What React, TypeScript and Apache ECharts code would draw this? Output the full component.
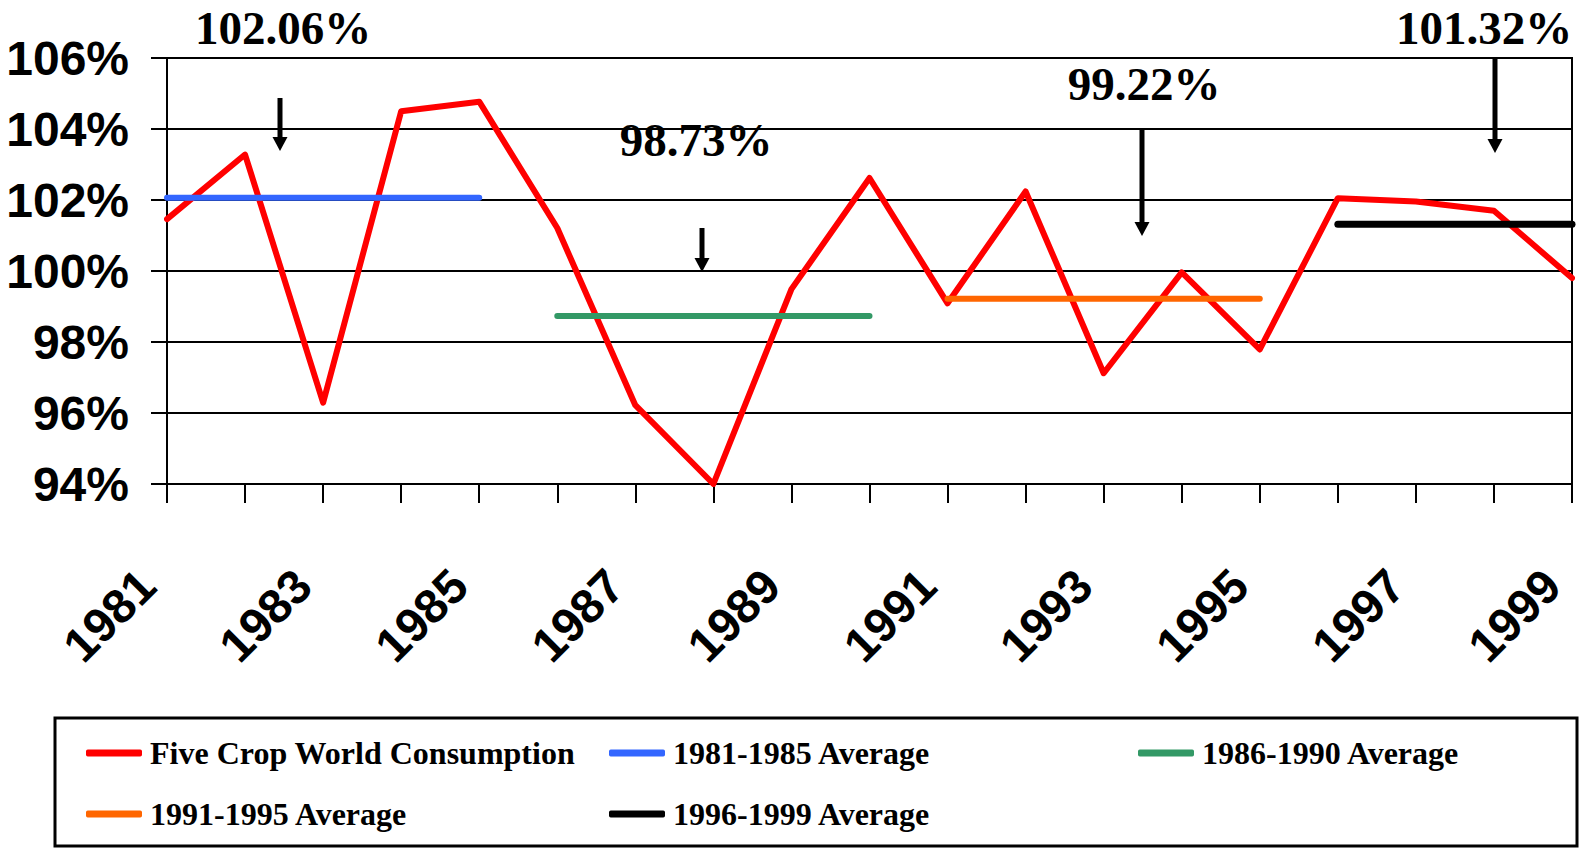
import React, { useEffect, useRef } from "react";
import * as echarts from "echarts";

const years = [
  "1981", "1982", "1983", "1984", "1985", "1986", "1987", "1988", "1989", "1990",
  "1991", "1992", "1993", "1994", "1995", "1996", "1997", "1998", "1999",
];

const consumption = [
  101.46, 103.28, 96.29, 104.5, 104.77, 101.21, 96.22, 94.0, 99.49, 102.62,
  99.09, 102.24, 97.12, 99.96, 97.79, 102.05, 101.96, 101.7, 99.8,
];

const avg1981to1985 = [
  102.06, 102.06, 102.06, 102.06, 102.06, null, null, null, null, null,
  null, null, null, null, null, null, null, null, null,
];
const avg1986to1990 = [
  null, null, null, null, null, 98.73, 98.73, 98.73, 98.73, 98.73,
  null, null, null, null, null, null, null, null, null,
];
const avg1991to1995 = [
  null, null, null, null, null, null, null, null, null, null,
  99.22, 99.22, 99.22, 99.22, 99.22, null, null, null, null,
];
const avg1996to1999 = [
  null, null, null, null, null, null, null, null, null, null,
  null, null, null, null, null, 101.32, 101.32, 101.32, 101.32,
];

const seriesNames = [
  "Five Crop World Consumption",
  "1981-1985 Average",
  "1986-1990 Average",
  "1991-1995 Average",
  "1996-1999 Average",
];
const seriesColors = ["#FF0000", "#3366FF", "#339966", "#FF6600", "#000000"];

const yMin = 94;
const yMax = 106;
const yInterval = 2;

const annotationLabels = ["102.06%", "98.73%", "99.22%", "101.32%"];

const SANS = '"Liberation Sans Narrow", "Arial Narrow", "Liberation Sans", Arial, sans-serif';
const SERIF = '"Liberation Serif", "Times New Roman", serif';

export default function App() {
  const ref = useRef<HTMLDivElement>(null);

  useEffect(() => {
    if (!ref.current) return;
    const chart = echarts.init(ref.current, undefined, { renderer: "svg" });

    const lineSeries = (name: string, data: (number | null)[], color: string, width: number) => ({
      name,
      type: "line",
      data,
      symbol: "none",
      showSymbol: false,
      connectNulls: false,
      lineStyle: { color, width, cap: "round", join: "round" },
      itemStyle: { color },
      emphasis: { disabled: true },
    });

    const legendCommon = {
      padding: 0,
      itemWidth: 56,
      itemHeight: 7,
      itemGap: 0,
      icon: "roundRect",
      selectedMode: false,
      textStyle: {
        fontFamily: SERIF,
        fontWeight: "bold",
        fontSize: 32,
        color: "#000",
        lineHeight: 34,
        padding: [0, 0, 0, 3],
      },
    };

    const legendPos = [
      { left: 86, top: 736 },
      { left: 609, top: 736 },
      { left: 1138, top: 736 },
      { left: 86, top: 797 },
      { left: 609, top: 797 },
    ];

    const annPos = [
      { x: 283, y: 28 },
      { x: 696, y: 140 },
      { x: 1144, y: 84 },
      { x: 1484, y: 28 },
    ];
    const arrows = [
      { x: 280, top: 98, tip: 151 },
      { x: 702, top: 228, tip: 272 },
      { x: 1142, top: 129, tip: 236 },
      { x: 1495, top: 58, tip: 153 },
    ];

    const graphics: any[] = [];
    annotationLabels.forEach((t, i) => {
      graphics.push({
        type: "text",
        x: annPos[i].x,
        y: annPos[i].y,
        silent: true,
        style: {
          text: t,
          fontFamily: SERIF,
          fontWeight: "bold",
          fontSize: 47,
          fill: "#000",
          align: "center",
          verticalAlign: "middle",
        },
      });
    });
    arrows.forEach((a) => {
      graphics.push({
        type: "line",
        silent: true,
        shape: { x1: a.x, y1: a.top, x2: a.x, y2: a.tip - 12 },
        style: { stroke: "#000", lineWidth: 5 },
      });
      graphics.push({
        type: "polygon",
        silent: true,
        shape: { points: [[a.x - 7.5, a.tip - 14], [a.x + 7.5, a.tip - 14], [a.x, a.tip]] },
        style: { fill: "#000" },
      });
    });
    graphics.push({
      type: "rect",
      silent: true,
      shape: { x: 55, y: 718, width: 1522, height: 128 },
      style: { fill: "none", stroke: "#000", lineWidth: 3 },
    });

    const option: any = {
      animation: false,
      backgroundColor: "#fff",
      grid: {
        left: 167,
        right: 7,
        top: 58,
        bottom: 365,
        containLabel: false,
        outerBoundsMode: "none",
        show: true,
        borderColor: "#000",
        borderWidth: 2,
        backgroundColor: "transparent",
      },
      xAxis: {
        type: "category",
        data: years,
        boundaryGap: false,
        axisLine: { show: true, lineStyle: { color: "#000", width: 2 } },
        axisTick: { show: true, interval: 0, length: 19, lineStyle: { color: "#000", width: 2 } },
        splitLine: { show: false },
        axisLabel: {
          interval: 1,
          rotate: 45,
          margin: 74,
          padding: [0, 28, 0, 0],
          fontFamily: SANS,
          fontWeight: "bold",
          fontSize: 48,
          color: "#000",
        },
      },
      yAxis: {
        type: "value",
        min: yMin,
        max: yMax,
        interval: yInterval,
        axisLine: { show: true, lineStyle: { color: "#000", width: 2 } },
        axisTick: { show: true, length: 16, lineStyle: { color: "#000", width: 2 } },
        splitLine: { show: true, lineStyle: { color: "#000", width: 2 } },
        axisLabel: {
          margin: 38,
          formatter: (v: number) => `${v}%`,
          fontFamily: SANS,
          fontWeight: "bold",
          fontSize: 48,
          color: "#000",
        },
      },
      legend: legendPos.map((p, i) => ({ ...legendCommon, ...p, data: [seriesNames[i]] })),
      series: [
        lineSeries(seriesNames[0], consumption, seriesColors[0], 6),
        lineSeries(seriesNames[1], avg1981to1985, seriesColors[1], 6),
        lineSeries(seriesNames[2], avg1986to1990, seriesColors[2], 6),
        lineSeries(seriesNames[3], avg1991to1995, seriesColors[3], 6),
        lineSeries(seriesNames[4], avg1996to1999, seriesColors[4], 7),
      ],
      graphic: graphics,
    };

    chart.setOption(option);
    return () => chart.dispose();
  }, []);

  return (
    <div
      ref={ref}
      style={{ position: "fixed", left: 0, top: 0, width: 1579, height: 849, background: "#fff" }}
    />
  );
}
